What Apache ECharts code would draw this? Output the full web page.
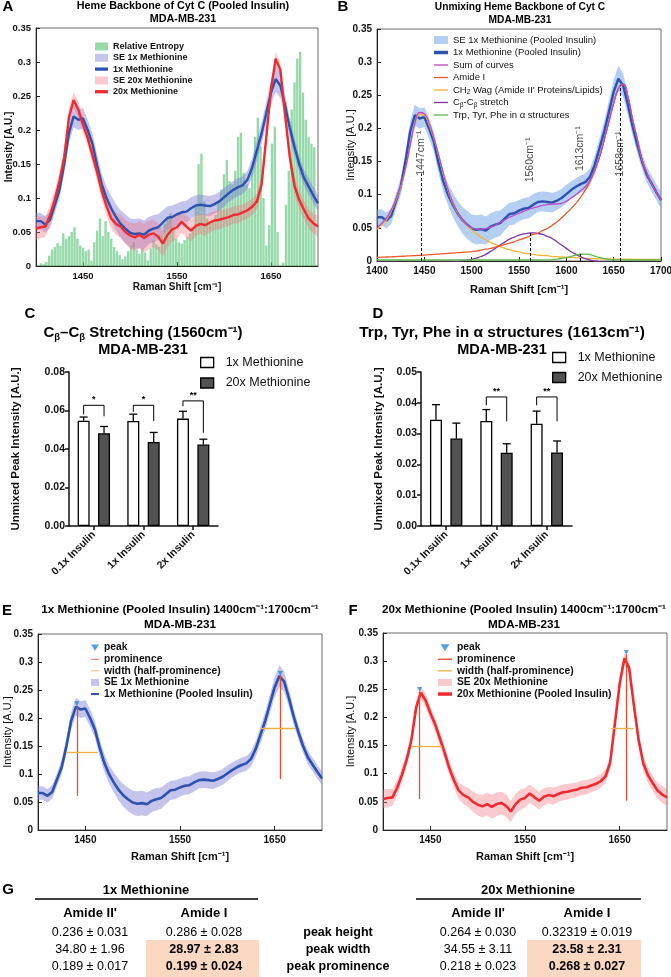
<!DOCTYPE html>
<html><head><meta charset="utf-8"><title>Heme Backbone of Cyt C</title>
<script src="https://cdn.jsdelivr.net/npm/echarts@6.0.0/dist/echarts.min.js"></script>
<style>html,body{margin:0;padding:0;background:#fff;}#chart{width:671px;height:977px;}</style>
</head><body><div id="chart"></div>
<script>
// ---------------- DATA ----------------
const WAVENUMBER = [1400,1405,1410,1415,1420,1425,1430,1435,1440,1445,1450,1455,1460,1465,1470,1475,1480,1485,1490,1495,1500,1505,1510,1515,1520,1525,1530,1535,1540,1545,1550,1555,1560,1565,1570,1575,1580,1585,1590,1595,1600,1605,1610,1615,1620,1625,1630,1635,1640,1645,1650,1655,1660,1665,1670,1675,1680,1685,1690,1695,1700];
const MEAN_1X = [0.066,0.066,0.061,0.068,0.090,0.112,0.150,0.195,0.220,0.215,
0.217,0.200,0.180,0.148,0.120,0.100,0.085,0.072,0.062,0.055,
0.049,0.047,0.048,0.046,0.052,0.055,0.057,0.064,0.071,0.072,
0.076,0.079,0.080,0.085,0.089,0.090,0.089,0.088,0.091,0.095,
0.101,0.107,0.112,0.116,0.119,0.127,0.145,0.170,0.195,0.225,
0.255,0.275,0.265,0.236,0.203,0.175,0.150,0.130,0.117,0.104,0.092];
const SE_1X = [0.012,0.012,0.012,0.012,0.012,0.013,0.014,0.015,0.016,0.015,
0.015,0.015,0.015,0.016,0.016,0.016,0.018,0.019,0.020,0.021,
0.021,0.022,0.022,0.021,0.020,0.020,0.019,0.018,0.017,0.017,
0.016,0.016,0.016,0.016,0.015,0.015,0.015,0.015,0.014,0.014,
0.014,0.013,0.013,0.013,0.013,0.013,0.014,0.015,0.016,0.017,
0.018,0.019,0.018,0.016,0.014,0.013,0.012,0.012,0.012,0.012,0.012];
const MEAN_20X = [0.055,0.057,0.058,0.075,0.098,0.125,0.160,0.218,0.244,0.230,
0.208,0.188,0.163,0.138,0.110,0.088,0.070,0.062,0.058,0.050,
0.045,0.042,0.046,0.041,0.046,0.048,0.043,0.033,0.046,0.054,
0.057,0.065,0.058,0.052,0.059,0.062,0.060,0.064,0.067,0.068,
0.070,0.072,0.075,0.076,0.079,0.082,0.087,0.095,0.120,0.190,
0.260,0.305,0.288,0.222,0.160,0.118,0.097,0.083,0.070,0.063,0.058];
const SE_20X = [0.017,0.016,0.015,0.014,0.013,0.012,0.012,0.012,0.012,0.012,
0.012,0.012,0.012,0.013,0.013,0.014,0.015,0.016,0.017,0.018,
0.019,0.020,0.020,0.021,0.021,0.020,0.020,0.019,0.018,0.018,
0.017,0.016,0.016,0.016,0.015,0.015,0.015,0.014,0.014,0.014,
0.013,0.013,0.013,0.013,0.012,0.012,0.012,0.012,0.012,0.011,
0.010,0.010,0.010,0.011,0.012,0.013,0.014,0.014,0.014,0.015,0.015];

const ENTROPY_SHIFT = [1405,1408,1411,1414,1417,1420,1423,1426,1429,1432,1435,1438,1441,1444,1447,1450,1453,1456,1459,1462,1465,1468,1471,1474,1477,1480,1483,1486,1489,1492,1495,1498,1501,1504,1507,1510,1513,1516,1519,1522,1525,1528,1531,1534,1537,1540,1543,1546,1549,1552,1555,1558,1561,1564,1567,1570,1573,1576,1579,1582,1585,1588,1591,1594,1597,1600,1603,1606,1609,1612,1615,1618,1621,1624,1627,1630,1633,1636,1639,1642,1645,1648,1651,1654,1657,1660,1663,1666,1669,1672,1675,1678,1681,1684,1687,1690,1693,1696];
const ENTROPY = [0.004,0.003,0.006,0.015,0.024,0.028,0.034,0.030,0.048,0.040,
0.044,0.050,0.057,0.040,0.030,0.027,0.022,0.024,0.008,0.035,
0.052,0.070,0.044,0.066,0.050,0.040,0.028,0.022,0.016,0.010,
0.014,0.022,0.030,0.035,0.024,0.018,0.026,0.020,0.008,0.026,
0.038,0.032,0.028,0.045,0.062,0.072,0.078,0.055,0.040,0.035,
0.033,0.038,0.043,0.048,0.053,0.090,0.150,0.165,0.095,0.070,
0.063,0.068,0.075,0.095,0.112,0.135,0.156,0.125,0.120,0.140,
0.190,0.196,0.137,0.120,0.115,0.145,0.190,0.218,0.176,0.100,
0.030,0.060,0.180,0.205,0.050,0.000,0.005,0.090,0.140,0.230,
0.270,0.305,0.315,0.255,0.215,0.190,0.180,0.175];

const FIT_SUM = [0.050,0.057,0.065,0.077,0.093,0.113,0.140,0.175,0.208,0.224,
0.222,0.208,0.186,0.160,0.133,0.108,0.089,0.074,0.063,0.055,
0.050,0.048,0.048,0.049,0.051,0.054,0.058,0.062,0.066,0.069,
0.072,0.075,0.078,0.080,0.082,0.084,0.085,0.086,0.086,0.087,
0.090,0.095,0.100,0.106,0.112,0.122,0.136,0.156,0.182,0.210,
0.238,0.260,0.267,0.249,0.214,0.183,0.153,0.133,0.117,0.104,0.092];
const FIT_AMIDE_I = [0.0055,0.0058,0.0060,0.0063,0.0066,0.0070,0.0074,0.0078,0.0082,0.0086,
0.0090,0.0095,0.0100,0.0105,0.0110,0.0115,0.0120,0.0125,0.0130,0.0135,
0.0140,0.0150,0.0165,0.0180,0.0190,0.0210,0.0230,0.0250,0.0270,0.0290,
0.0320,0.0340,0.0370,0.0400,0.0420,0.0460,0.0490,0.0540,0.0590,0.0650,
0.0720,0.0790,0.0870,0.0960,0.1070,0.1200,0.1370,0.1570,0.1830,0.2100,
0.2380,0.2600,0.2660,0.2480,0.2130,0.1830,0.1520,0.1330,0.1170,0.1040,0.0920];
const FIT_CH2_WAG = [0.048,0.054,0.062,0.075,0.092,0.110,0.137,0.172,0.205,0.221,
0.220,0.205,0.185,0.160,0.132,0.107,0.087,0.073,0.062,0.054,
0.047,0.041,0.036,0.032,0.028,0.025,0.022,0.019,0.017,0.015,
0.014,0.012,0.011,0.010,0.009,0.0085,0.008,0.007,0.0065,0.006,
0.0058,0.0052,0.0048,0.0044,0.0040,0.0037,0.0035,0.0033,0.0031,0.0030,
0.0029,0.0028,0.0027,0.0027,0.0026,0.0026,0.0025,0.0025,0.0025,0.0025,0.0025];
const FIT_CB_CB = [-0.0015,-0.0015,-0.0016,-0.0017,-0.0018,-0.0019,-0.0020,-0.0020,-0.0020,-0.0020,
-0.0020,-0.0020,-0.0020,-0.0019,-0.0018,-0.0016,-0.0012,-0.0006,0.0002,0.0012,
0.0025,0.0045,0.0068,0.0100,0.0145,0.0190,0.0240,0.0285,0.0330,0.0360,
0.0390,0.0410,0.0420,0.0425,0.0415,0.0400,0.0370,0.0340,0.0290,0.0240,
0.0190,0.0140,0.0100,0.0065,0.0035,0.0015,0.0000,-0.0010,-0.0018,-0.0022,
-0.0025,-0.0025,-0.0025,-0.0024,-0.0023,-0.0022,-0.0021,-0.0020,-0.0020,-0.0020,-0.0020];
const FIT_TRP = [0.0015,0.0015,0.0015,0.0015,0.0015,0.0015,0.0015,0.0015,0.0015,0.0015,
0.0015,0.0015,0.0015,0.0015,0.0015,0.0015,0.0015,0.0015,0.0015,0.0015,
0.0015,0.0015,0.0015,0.0015,0.0015,0.0015,0.0015,0.0015,0.0015,0.0015,
0.0015,0.0015,0.0015,0.0015,0.0015,0.0016,0.0018,0.0022,0.0028,0.0038,
0.0052,0.0068,0.0088,0.0102,0.0105,0.0095,0.0075,0.0052,0.0035,0.0025,
0.0019,0.0017,0.0016,0.0015,0.0015,0.0015,0.0015,0.0015,0.0015,0.0015,0.0015];

const B_MARK_SHIFT = [1447, 1562, 1615, 1657];
const B_MARK_TOP = [0.132, 0.042, 0.011, 0.265];
const B_MARK_LABEL = ['1447cm⁻¹', '1560cm⁻¹', '1613cm⁻¹', '1658cm⁻¹'];
const B_MARK_LABEL_Y = [0.167, 0.157, 0.174, 0.166];

const SPEC_TICKS = [1450, 1550, 1650];

const INSULIN = ['0.1x Insulin', '1x Insulin', '2x Insulin'];
const CB_1X = [0.0547, 0.0546, 0.0558];
const CB_1X_ERR = [0.0019, 0.0035, 0.0038];
const CB_20X = [0.0482, 0.0437, 0.0423];
const CB_20X_ERR = [0.0035, 0.0049, 0.0028];
const CB_SIG_CAT = [0, 1, 2];
const CB_SIG_TOP = [0.0627, 0.0627, 0.0650];
const CB_SIG_LEFT = [0.0580, 0.0593, 0.0622];
const CB_SIG_RIGHT = [0.0570, 0.0546, 0.0484];
const CB_SIG_TEXT = ['*', '*', '**'];

const TRP_1X = [0.0345, 0.0341, 0.0332];
const TRP_1X_ERR = [0.0049, 0.0037, 0.0041];
const TRP_20X = [0.0284, 0.0238, 0.0239];
const TRP_20X_ERR = [0.0050, 0.0029, 0.0037];
const TRP_SIG_CAT = [1, 2];
const TRP_SIG_TOP = [0.0419, 0.0419];
const TRP_SIG_LEFT = [0.0392, 0.0392];
const TRP_SIG_RIGHT = [0.0340, 0.0340];
const TRP_SIG_TEXT = ['**', '**'];

const E_PEAK_SHIFT = [1441, 1656];
const E_PEAK_HEIGHT = [0.222, 0.276];
const E_PROM_BASE = [0.061, 0.091];
const E_WIDTH_LEVEL = [0.1395, 0.1825];
const E_WIDTH_FROM = [1430, 1635.4];
const E_WIDTH_TO = [1463, 1672.4];

const F_PEAK_SHIFT = [1438.7, 1657];
const F_PEAK_HEIGHT = [0.246, 0.312];
const F_PROM_BASE = [0.055, 0.052];
const F_WIDTH_LEVEL = [0.148, 0.180];
const F_WIDTH_FROM = [1430, 1641];
const F_WIDTH_TO = [1462.4, 1664.6];

const TABLE_ROWS = ['peak height', 'peak width', 'peak prominence'];
const T1_AMIDE2 = ['0.236 ± 0.031', '34.80 ± 1.96', '0.189 ± 0.017'];
const T1_AMIDE1 = ['0.286 ± 0.028', '28.97 ± 2.83', '0.199 ± 0.024'];
const T20_AMIDE2 = ['0.264 ± 0.030', '34.55 ± 3.11', '0.218 ± 0.023'];
const T20_AMIDE1 = ['0.32319 ± 0.019', '23.58 ± 2.31', '0.268 ± 0.027'];
const T_HIGHLIGHT = [false, true, true];

// ---------------- STYLE ----------------
const FONT = '"Liberation Sans", Arial, sans-serif';
const NARROW = '"Liberation Sans Narrow", "Liberation Sans", Arial, sans-serif';
const BLUE = '#2a52b0';
const RED = '#f02a2e';
const LAV = 'rgba(125,125,215,0.45)';
const PINK = 'rgba(245,115,125,0.38)';
const LIGHTBLUE = 'rgba(105,160,228,0.5)';
const ENT = 'rgba(100,200,130,0.68)';
const C_SUM = '#c346c8';
const C_AMIDE = '#ea5a2b';
const C_WAG = '#f4b535';
const C_CB = '#7e35a8';
const C_TRP = '#5eb84a';
const PROM = '#ec4b2c';
const WIDTHC = '#f2b040';
const PEAKC = '#2a86d8';
const DARK = '#525252';
const AX = '#222';
const LINE_THICK = 'path://M0,0H12V3H0Z';
const LINE_THIN = 'path://M0,0H16V1.5H0Z';
const TRI_DOWN = 'path://M0,0L10,0L5,8Z';
const BAR_W = 12;
const BAR_OFFSET = BAR_W * 1.7 / 2;
const CAP = 4;
const plainNum = v => String(v);

// ---------------- HELPERS ----------------
function specX(gi, useTicks, labelSize, nameGap, nameSize) {
  const ax = {
    gridIndex: gi, type: 'value', min: 1400, max: 1700,
    axisLine: { show: true, onZero: false, lineStyle: { color: AX, width: 1 } },
    axisTick: { show: true, inside: true, length: 4, lineStyle: { color: AX } },
    axisLabel: { color: '#111', fontWeight: 'bold', fontSize: labelSize, margin: 5, fontFamily: FONT, formatter: plainNum },
    splitLine: { show: false },
    name: 'Raman Shift [cm⁻¹]', nameLocation: 'middle', nameGap: nameGap, nameMoveOverlap: false,
    nameTextStyle: { color: '#111', fontWeight: 'bold', fontSize: nameSize, fontFamily: FONT }
  };
  if (useTicks) { ax.axisLabel.customValues = SPEC_TICKS; ax.axisTick.customValues = SPEC_TICKS; }
  else { ax.interval = 50; }
  return ax;
}
function specY(gi, labelSize, nameGap, nameSize, nameWeight) {
  return {
    gridIndex: gi, type: 'value', min: 0, max: 0.35, interval: 0.05,
    axisLine: { show: true, onZero: false, lineStyle: { color: AX, width: 1 } },
    axisTick: { show: true, inside: true, length: 4, lineStyle: { color: AX } },
    axisLabel: { color: '#111', fontWeight: 'bold', fontSize: labelSize, margin: 5, fontFamily: FONT },
    splitLine: { show: false },
    name: 'Intensity [A.U.]', nameLocation: 'middle', nameGap: nameGap, nameMoveOverlap: false,
    nameTextStyle: { color: '#111', fontWeight: nameWeight, fontSize: nameSize, fontFamily: FONT }
  };
}
function pairs(ys) { return WAVENUMBER.map((x, i) => [x, ys[i]]); }
// SE band: one polygon between mean-se and mean+se, positioned through the axis scales
function band(name, mean, se, color, gi) {
  return { type: 'custom', name: name, xAxisIndex: gi, yAxisIndex: gi, silent: true, z: 2, clip: true,
    itemStyle: { color: color },
    encode: { x: 0, y: 1 },
    data: [[WAVENUMBER[0], mean[0]]],
    renderItem: function (params, api) {
      const up = WAVENUMBER.map((x, i) => api.coord([x, mean[i] + se[i]]));
      const lo = WAVENUMBER.map((x, i) => api.coord([x, mean[i] - se[i]])).reverse();
      return { type: 'polygon', shape: { points: up.concat(lo) }, style: { fill: color } };
    } };
}
function meanLine(name, ys, color, gi, width, smooth) {
  return { type: 'line', name: name, xAxisIndex: gi, yAxisIndex: gi, data: pairs(ys), symbol: 'none',
    smooth: smooth || false, silent: true, lineStyle: { color: color, width: width }, itemStyle: { color: color }, z: 3 };
}
function catX(gi) {
  return {
    gridIndex: gi, type: 'category', data: INSULIN,
    axisLine: { show: true, lineStyle: { color: '#111', width: 1.5 } },
    axisTick: { show: true, alignWithLabel: true, length: 4, lineStyle: { color: '#111', width: 1.5 } },
    axisLabel: { rotate: 45, color: '#111', fontWeight: 'bold', fontSize: 10.5, margin: 7, fontFamily: FONT },
    splitLine: { show: false }
  };
}
function barY(gi, max, interval, nameGap) {
  return {
    gridIndex: gi, type: 'value', min: 0, max: max, interval: interval,
    axisLine: { show: true, lineStyle: { color: '#111', width: 1.5 } },
    axisTick: { show: true, length: 4, lineStyle: { color: '#111', width: 1.5 } },
    axisLabel: { color: '#111', fontWeight: 'bold', fontSize: 10.5, margin: 4, fontFamily: FONT,
      formatter: v => v.toFixed(2) },
    splitLine: { show: false },
    name: 'Unmixed Peak Intensity [A.U.]', nameLocation: 'middle', nameGap: nameGap, nameMoveOverlap: false,
    nameTextStyle: { color: '#111', fontWeight: 'bold', fontSize: 11.5, fontFamily: FONT }
  };
}
function errRender(sign) {
  return function (params, api) {
    const c = api.value(0), v = api.value(1), e = api.value(2);
    const p0 = api.coord([c, v]), p1 = api.coord([c, v + e]);
    const x = p0[0] + sign * BAR_OFFSET;
    const st = { stroke: '#000', lineWidth: 1.3 };
    return { type: 'group', children: [
      { type: 'line', shape: { x1: x, y1: p0[1], x2: x, y2: p1[1] }, style: st },
      { type: 'line', shape: { x1: x - CAP, y1: p1[1], x2: x + CAP, y2: p1[1] }, style: st }
    ] };
  };
}
function errSeries(gi, vals, errs, sign) {
  return { type: 'custom', xAxisIndex: gi, yAxisIndex: gi, silent: true, z: 4,
    encode: { x: 0, y: 1 }, data: vals.map((v, i) => [i, v, errs[i]]), renderItem: errRender(sign) };
}
function bracketSeries(gi, cats, tops, lefts, rights, texts) {
  return { type: 'custom', xAxisIndex: gi, yAxisIndex: gi, silent: true, z: 5,
    encode: { x: 0, y: 1 }, data: cats.map((c, i) => [c, tops[i], lefts[i], rights[i]]),
    renderItem: function (params, api) {
      const c = api.value(0);
      const pt = api.coord([c, api.value(1)]);
      const pl = api.coord([c, api.value(2)]);
      const pr = api.coord([c, api.value(3)]);
      const xl = pt[0] - BAR_OFFSET, xr = pt[0] + BAR_OFFSET;
      return { type: 'group', children: [
        { type: 'polyline', shape: { points: [[xl, pl[1]], [xl, pt[1]], [xr, pt[1]], [xr, pr[1]]] },
          style: { stroke: '#000', lineWidth: 1, fill: null } },
        { type: 'text', x: (xl + xr) / 2, y: pt[1] - 1,
          style: { text: texts[params.dataIndex], fill: '#000', font: 'bold 9px ' + FONT,
            align: 'center', verticalAlign: 'bottom', textAlign: 'center', textVerticalAlign: 'bottom' } }
      ] };
    } };
}
function peakSeries(gi, xs, hs) {
  return { type: 'scatter', name: 'peak', xAxisIndex: gi, yAxisIndex: gi, silent: true, z: 6,
    data: xs.map((x, i) => [x, hs[i]]), symbol: 'triangle', symbolRotate: 180, symbolSize: 5,
    symbolOffset: [0, -2], itemStyle: { color: PEAKC } };
}
function promSeries(gi, xs, hs, bases) {
  return { type: 'line', name: 'prominence', xAxisIndex: gi, yAxisIndex: gi, data: [], z: 5,
    itemStyle: { color: PROM }, lineStyle: { color: PROM },
    markLine: { silent: true, symbol: ['none', 'none'], label: { show: false }, animation: false,
      lineStyle: { color: PROM, width: 1.3, type: 'solid' },
      emphasis: { disabled: true },
      data: xs.map((x, i) => [{ coord: [x, hs[i]] }, { coord: [x, bases[i]] }]) } };
}
function widthSeries(gi, froms, tos, levels) {
  return { type: 'line', name: 'width (half-prominence)', xAxisIndex: gi, yAxisIndex: gi, data: [], z: 5,
    itemStyle: { color: WIDTHC }, lineStyle: { color: WIDTHC },
    markLine: { silent: true, symbol: ['none', 'none'], label: { show: false }, animation: false,
      lineStyle: { color: WIDTHC, width: 1.3, type: 'solid' },
      emphasis: { disabled: true },
      data: froms.map((x, i) => [{ coord: [x, levels[i]] }, { coord: [tos[i], levels[i]] }]) } };
}
function T(x, y, text, font, align, fill) {
  return { type: 'text', x: x, y: y, silent: true, z: 100,
    style: { text: text, font: font, fill: fill || '#000', align: align || 'center', verticalAlign: 'middle',
      textAlign: align || 'center', textVerticalAlign: 'middle' } };
}

// ---------------- SERIES ----------------
const series = [];
// Panel A (grid 0)
series.push({ type: 'bar', name: 'Relative Entropy', xAxisIndex: 0, yAxisIndex: 0, silent: true,
  data: ENTROPY_SHIFT.map((x, i) => [x, ENTROPY[i]]), barWidth: 2.4, itemStyle: { color: ENT }, z: 1 });
series.push(band('SE 1x Methionine', MEAN_1X, SE_1X, LAV, 0));
series.push(band('SE 20x Methionine', MEAN_20X, SE_20X, PINK, 0));
series.push(meanLine('1x Methionine', MEAN_1X, BLUE, 0, 2.4));
series.push(meanLine('20x Methionine', MEAN_20X, RED, 0, 2.4));
// Panel B (grid 1)
series.push(band('SE 1x Methionine (Pooled Insulin)', MEAN_1X, SE_1X, LIGHTBLUE, 1));
series.push(meanLine('1x Methionine (Pooled Insulin)', MEAN_1X, BLUE, 1, 2.4));
series.push(meanLine("CH2 Wag (Amide II' Proteins/Lipids)", FIT_CH2_WAG, C_WAG, 1, 1.3, true));
series.push(meanLine('Cβ-Cβ stretch', FIT_CB_CB, C_CB, 1, 1.3, true));
series.push(meanLine('Trp, Tyr, Phe in α structures', FIT_TRP, C_TRP, 1, 1.3, true));
series.push(meanLine('Amide I', FIT_AMIDE_I, C_AMIDE, 1, 1.3, true));
const sumSeries = meanLine('Sum of curves', FIT_SUM, C_SUM, 1, 1.3, true);
sumSeries.markLine = { silent: true, symbol: ['none', 'none'], label: { show: false }, animation: false,
  lineStyle: { color: '#111', width: 1, type: [3, 2] }, emphasis: { disabled: true },
  data: B_MARK_SHIFT.map((x, i) => [{ coord: [x, 0] }, { coord: [x, B_MARK_TOP[i]] }]) };
series.push(sumSeries);
series.push({ type: 'scatter', name: 'peak labels', xAxisIndex: 1, yAxisIndex: 1, silent: true, z: 7,
  data: B_MARK_SHIFT.map((x, i) => [x, B_MARK_LABEL_Y[i]]), symbolSize: 0,
  label: { show: true, position: 'inside', rotate: 90, offset: [-3, 0], color: '#111', fontSize: 10.5, fontFamily: FONT,
    formatter: p => B_MARK_LABEL[p.dataIndex] } });
// Panel C (grid 2)
series.push({ type: 'bar', name: '1x Methionine', xAxisIndex: 2, yAxisIndex: 2, data: CB_1X, barWidth: BAR_W, barGap: '70%',
  silent: true, itemStyle: { color: '#fff', borderColor: '#000', borderWidth: 1.3 }, z: 3 });
series.push({ type: 'bar', name: '20x Methionine', xAxisIndex: 2, yAxisIndex: 2, data: CB_20X, barWidth: BAR_W, barGap: '70%',
  silent: true, itemStyle: { color: DARK, borderColor: '#000', borderWidth: 1.3 }, z: 3 });
series.push(errSeries(2, CB_1X, CB_1X_ERR, -1));
series.push(errSeries(2, CB_20X, CB_20X_ERR, 1));
series.push(bracketSeries(2, CB_SIG_CAT, CB_SIG_TOP, CB_SIG_LEFT, CB_SIG_RIGHT, CB_SIG_TEXT));
// Panel D (grid 3)
series.push({ type: 'bar', name: '1x Methionine', xAxisIndex: 3, yAxisIndex: 3, data: TRP_1X, barWidth: BAR_W, barGap: '70%',
  silent: true, itemStyle: { color: '#fff', borderColor: '#000', borderWidth: 1.3 }, z: 3 });
series.push({ type: 'bar', name: '20x Methionine', xAxisIndex: 3, yAxisIndex: 3, data: TRP_20X, barWidth: BAR_W, barGap: '70%',
  silent: true, itemStyle: { color: DARK, borderColor: '#000', borderWidth: 1.3 }, z: 3 });
series.push(errSeries(3, TRP_1X, TRP_1X_ERR, -1));
series.push(errSeries(3, TRP_20X, TRP_20X_ERR, 1));
series.push(bracketSeries(3, TRP_SIG_CAT, TRP_SIG_TOP, TRP_SIG_LEFT, TRP_SIG_RIGHT, TRP_SIG_TEXT));
// Panel E (grid 4)
series.push(band('SE 1x Methionine', MEAN_1X, SE_1X, LAV, 4));
series.push(meanLine('1x Methionine (Pooled Insulin)', MEAN_1X, BLUE, 4, 2.6));
series.push(promSeries(4, E_PEAK_SHIFT, E_PEAK_HEIGHT, E_PROM_BASE));
series.push(widthSeries(4, E_WIDTH_FROM, E_WIDTH_TO, E_WIDTH_LEVEL));
series.push(peakSeries(4, E_PEAK_SHIFT, E_PEAK_HEIGHT));
// Panel F (grid 5)
series.push(band('SE 20x Methionine', MEAN_20X, SE_20X, PINK, 5));
series.push(meanLine('20x Methionine (Pooled Insulin)', MEAN_20X, RED, 5, 2.6));
series.push(promSeries(5, F_PEAK_SHIFT, F_PEAK_HEIGHT, F_PROM_BASE));
series.push(widthSeries(5, F_WIDTH_FROM, F_WIDTH_TO, F_WIDTH_LEVEL));
series.push(peakSeries(5, F_PEAK_SHIFT, F_PEAK_HEIGHT));

// ---------------- LEGENDS ----------------
const legendBase = { orient: 'vertical', padding: 0, selectedMode: false };
const legends = [
  Object.assign({}, legendBase, { left: 95, top: 41, itemWidth: 13, itemHeight: 8, itemGap: 0.3,
    textStyle: { fontFamily: FONT, fontWeight: 'bold', fontSize: 9, lineHeight: 11, color: '#111' },
    data: [
      { name: 'Relative Entropy', icon: 'rect', itemStyle: { color: ENT } },
      { name: 'SE 1x Methionine', icon: 'rect', itemStyle: { color: LAV } },
      { name: '1x Methionine', icon: LINE_THICK, itemStyle: { color: BLUE } },
      { name: 'SE 20x Methionine', icon: 'rect', itemStyle: { color: PINK } },
      { name: '20x Methionine', icon: LINE_THICK, itemStyle: { color: RED } }
    ] }),
  Object.assign({}, legendBase, { left: 434, top: 34, itemWidth: 14, itemHeight: 8, itemGap: 0.5,
    textStyle: { fontFamily: FONT, fontSize: 9.5, lineHeight: 12, color: '#111',
      rich: { s: { fontSize: 6.5, fontFamily: FONT, lineHeight: 12, verticalAlign: 'bottom', color: '#111' } } },
    formatter: function (name) {
      if (name.indexOf('CH2') === 0) return "CH{s|2} Wag (Amide II' Proteins/Lipids)";
      if (name === 'Cβ-Cβ stretch') return 'C{s|β}-C{s|β} stretch';
      return name;
    },
    data: [
      { name: 'SE 1x Methionine (Pooled Insulin)', icon: 'rect', itemStyle: { color: LIGHTBLUE } },
      { name: '1x Methionine (Pooled Insulin)', icon: LINE_THICK, itemStyle: { color: BLUE } },
      { name: 'Sum of curves', icon: LINE_THIN, itemStyle: { color: C_SUM } },
      { name: 'Amide I', icon: LINE_THIN, itemStyle: { color: C_AMIDE } },
      { name: "CH2 Wag (Amide II' Proteins/Lipids)", icon: LINE_THIN, itemStyle: { color: C_WAG } },
      { name: 'Cβ-Cβ stretch', icon: LINE_THIN, itemStyle: { color: C_CB } },
      { name: 'Trp, Tyr, Phe in α structures', icon: LINE_THIN, itemStyle: { color: C_TRP } }
    ] }),
  Object.assign({}, legendBase, { left: 200, top: 356, itemWidth: 13, itemHeight: 10, itemGap: 7.5,
    textStyle: { fontFamily: FONT, fontSize: 12.5, color: '#111', padding: [0, 0, 0, 7] },
    data: [
      { name: '1x Methionine', icon: 'rect', itemStyle: { color: '#fff', borderColor: '#000', borderWidth: 1.3 } },
      { name: '20x Methionine', icon: 'rect', itemStyle: { color: DARK, borderColor: '#000', borderWidth: 1.3 } }
    ] }),
  Object.assign({}, legendBase, { left: 552, top: 351, itemWidth: 13, itemHeight: 10, itemGap: 7,
    textStyle: { fontFamily: FONT, fontSize: 12.5, color: '#111', padding: [0, 0, 0, 7] },
    data: [
      { name: '1x Methionine', icon: 'rect', itemStyle: { color: '#fff', borderColor: '#000', borderWidth: 1.3 } },
      { name: '20x Methionine', icon: 'rect', itemStyle: { color: DARK, borderColor: '#000', borderWidth: 1.3 } }
    ] }),
  Object.assign({}, legendBase, { left: 91, top: 642, itemWidth: 8, itemHeight: 7, itemGap: 0.3,
    textStyle: { fontFamily: FONT, fontWeight: 'bold', fontSize: 10.3, lineHeight: 11.3, color: '#111' },
    data: [
      { name: 'peak', icon: TRI_DOWN, itemStyle: { color: PEAKC } },
      { name: 'prominence', icon: LINE_THIN, itemStyle: { color: PROM } },
      { name: 'width (half-prominence)', icon: LINE_THIN, itemStyle: { color: WIDTHC } },
      { name: 'SE 1x Methionine', icon: 'rect', itemStyle: { color: LAV } },
      { name: '1x Methionine (Pooled Insulin)', icon: LINE_THICK, itemStyle: { color: BLUE } }
    ] }),
  Object.assign({}, legendBase, { left: 438, top: 642, itemWidth: 14, itemHeight: 7, itemGap: 0.3,
    textStyle: { fontFamily: FONT, fontWeight: 'bold', fontSize: 10.3, lineHeight: 11.3, color: '#111' },
    data: [
      { name: 'peak', icon: TRI_DOWN, itemStyle: { color: PEAKC } },
      { name: 'prominence', icon: LINE_THIN, itemStyle: { color: PROM } },
      { name: 'width (half-prominence)', icon: LINE_THIN, itemStyle: { color: WIDTHC } },
      { name: 'SE 20x Methionine', icon: 'rect', itemStyle: { color: PINK } },
      { name: '20x Methionine (Pooled Insulin)', icon: LINE_THICK, itemStyle: { color: RED } }
    ] })
];

// ---------------- GRAPHIC TEXT ----------------
const BOLD = s => 'bold ' + s + 'px ' + FONT;
const g = [];
g.push(T(8, 7, 'A', BOLD(15)));
g.push(T(343, 7, 'B', BOLD(15)));
g.push(T(30, 314, 'C', BOLD(15)));
g.push(T(378, 314, 'D', BOLD(15)));
g.push(T(7, 611, 'E', BOLD(15)));
g.push(T(353, 611, 'F', BOLD(15)));
g.push(T(8, 890, 'G', BOLD(15)));
g.push(T(183, 6, 'Heme Backbone of Cyt C (Pooled Insulin)', BOLD(10.8)));
g.push(T(183, 19, 'MDA-MB-231', BOLD(10.8)));
g.push(T(520, 7.5, 'Unmixing Heme Backbone of Cyt C', BOLD(10.2)));
g.push(T(520, 20.5, 'MDA-MB-231', BOLD(10.2)));
g.push({ type: 'text', x: 143, y: 333, silent: true, z: 100,
  style: { text: '{n|C}{s|β}{n|–C}{s|β}{n| Stretching (1560cm⁻¹)}', align: 'center', verticalAlign: 'middle',
    textAlign: 'center', textVerticalAlign: 'middle', fill: '#000',
    rich: { n: { fontSize: 15, fontWeight: 'bold', fontFamily: FONT, lineHeight: 18, fill: '#000' },
            s: { fontSize: 9.5, fontWeight: 'bold', fontFamily: FONT, lineHeight: 18, verticalAlign: 'bottom', fill: '#000' } } } });
g.push(T(143, 350, 'MDA-MB-231', BOLD(14.5)));
g.push(T(502, 333, 'Trp, Tyr, Phe in α structures (1613cm⁻¹)', BOLD(15.5)));
g.push(T(502, 350, 'MDA-MB-231', BOLD(14.5)));
g.push(T(180, 610, '1x Methionine (Pooled Insulin) 1400cm⁻¹:1700cm⁻¹', BOLD(11.7)));
g.push(T(180, 625, 'MDA-MB-231', BOLD(11.7)));
g.push(T(524, 610, '20x Methionine (Pooled Insulin) 1400cm⁻¹:1700cm⁻¹', BOLD(11.7)));
g.push(T(524, 625, 'MDA-MB-231', BOLD(11.7)));
const COLX = { l2: 90, l1: 204, mid: 338, r2: 478, r1: 587 };
const ROWY = [933, 950, 967];
g.push({ type: 'rect', silent: true, z: 90, shape: { x: 146, y: 940, width: 113, height: 37 }, style: { fill: '#fbd8c2' } });
g.push({ type: 'rect', silent: true, z: 90, shape: { x: 527, y: 940, width: 114, height: 37 }, style: { fill: '#fbd8c2' } });
g.push(T(146, 890, '1x Methionine', 'bold 13px ' + NARROW));
g.push(T(528, 890, '20x Methionine', 'bold 13px ' + NARROW));
g.push({ type: 'line', silent: true, z: 95, shape: { x1: 35, y1: 899, x2: 258, y2: 899 }, style: { stroke: '#000', lineWidth: 1.6 } });
g.push({ type: 'line', silent: true, z: 95, shape: { x1: 416, y1: 899, x2: 641, y2: 899 }, style: { stroke: '#000', lineWidth: 1.6 } });
g.push(T(COLX.l2, 913, "Amide II'", 'bold 13px ' + NARROW));
g.push(T(COLX.l1, 913, 'Amide I', 'bold 13px ' + NARROW));
g.push(T(COLX.r2, 913, "Amide II'", 'bold 13px ' + NARROW));
g.push(T(COLX.r1, 913, 'Amide I', 'bold 13px ' + NARROW));
ROWY.forEach((y, i) => {
  const w = T_HIGHLIGHT[i] ? 'bold ' : '';
  g.push(T(COLX.l2, y, T1_AMIDE2[i], '12.5px ' + NARROW));
  g.push(T(COLX.l1, y, T1_AMIDE1[i], w + '12.5px ' + NARROW));
  g.push(T(COLX.mid, y, TABLE_ROWS[i], 'bold 12.5px ' + NARROW));
  g.push(T(COLX.r2, y, T20_AMIDE2[i], '12.5px ' + NARROW));
  g.push(T(COLX.r1, y, T20_AMIDE1[i], w + '12.5px ' + NARROW));
});

// ---------------- OPTION ----------------
const gridBase = { show: true, borderColor: '#444', borderWidth: 0.8, backgroundColor: 'transparent', outerBoundsMode: 'none', containLabel: false };
const option = {
  animation: false,
  backgroundColor: '#fff',
  textStyle: { fontFamily: FONT },
  grid: [
    Object.assign({}, gridBase, { left: 36, top: 28, width: 282, height: 238 }),
    Object.assign({}, gridBase, { left: 377, top: 29, width: 284, height: 232 }),
    { left: 69, top: 372, width: 149, height: 154, show: false, outerBoundsMode: 'none', containLabel: false },
    { left: 421, top: 372, width: 151, height: 154, show: false, outerBoundsMode: 'none', containLabel: false },
    Object.assign({}, gridBase, { left: 38, top: 634, width: 284, height: 196 }),
    Object.assign({}, gridBase, { left: 383, top: 633, width: 284, height: 197 })
  ],
  xAxis: [
    specX(0, true, 9.5, 16, 10),
    specX(1, false, 10, 23, 11),
    catX(2),
    catX(3),
    specX(4, true, 10, 21, 11),
    specX(5, true, 10, 21, 11)
  ],
  yAxis: [
    specY(0, 9.5, 22, 10, 'bold'),
    specY(1, 10, 21, 11, 'normal'),
    barY(2, 0.08, 0.02, 47),
    barY(3, 0.05, 0.01, 36),
    specY(4, 10, 25, 11, 'normal'),
    specY(5, 10, 27, 11, 'normal')
  ],
  legend: legends,
  series: series,
  graphic: { elements: g }
};
const chart = echarts.init(document.getElementById('chart'), null, { width: 671, height: 977, renderer: 'canvas' });
chart.setOption(option);
</script></body></html>
